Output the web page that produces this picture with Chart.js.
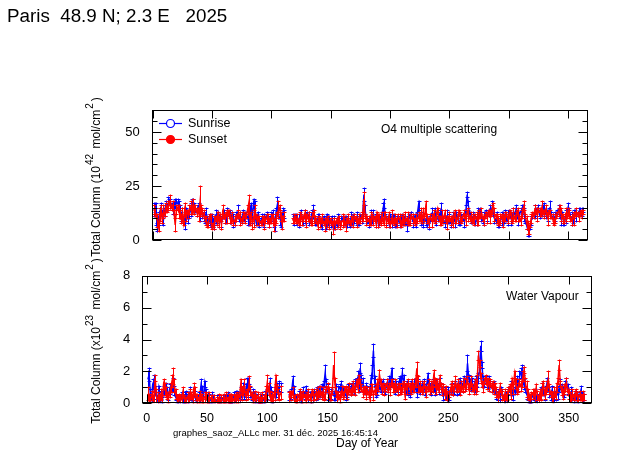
<!DOCTYPE html>
<html>
<head>
<meta charset="utf-8">
<script src="https://cdn.jsdelivr.net/npm/chart.js@4.4.1/dist/chart.umd.min.js"></script>
<style>
  body { margin: 0; background: #fff; font-family: "Liberation Sans", Arial, sans-serif; }
  #wrap { position: relative; width: 623px; height: 455px; overflow: hidden; }
  canvas { position: absolute; left: 0; top: 0; }
  .t { position: absolute; color: #000; white-space: pre; line-height: 1; }
  .ylab { position: absolute; white-space: pre; font-size: 12px; line-height: 1;
          transform: translate(-50%, -50%) rotate(-90deg); }
  .ylab sup { font-size: 10px; vertical-align: 7px; padding: 0 2px 0 1px; }
</style>
</head>
<body>
<div id="wrap">
  <canvas id="o4Chart" width="623" height="455"></canvas>
  <canvas id="h2oChart" width="623" height="455"></canvas>

  <div class="t" style="left:7px; top:6.5px; font-size:18.8px;">Paris  48.9 N; 2.3 E   2025</div>
  <div class="t" style="left:381px; top:123px; font-size:12px;">O4 multiple scattering</div>
  <div class="t" style="left:506px; top:290px; font-size:12px;">Water Vapour</div>
  <div class="t" style="left:173px; top:428px; font-size:9.5px;">graphes_saoz_ALLc mer. 31 déc. 2025 16:45:14</div>
  <div class="t" style="left:336px; top:437px; font-size:12px;">Day of Year</div>

  <div class="ylab" style="left:93px; top:177px;">Total Column (10<sup>42</sup> mol/cm<sup>2</sup>)</div>
  <div class="ylab" style="left:93px; top:341px;">Total Column (x10<sup>23</sup> mol/cm<sup>2</sup>)</div>
</div>

<script>
// day of year of the first value in every series
const firstDay = 1;

const xTicks = [0, 50, 100, 150, 200, 250, 300, 350];
const o4YTicks = [0, 5, 10, 15, 20, 25, 30, 35, 40, 45, 50, 55, 60];
const o4YLabels = [0, 25, 50];
const h2oYTicks = [0, 1, 2, 3, 4, 5, 6, 7, 8];
const h2oYLabels = [0, 2, 4, 6, 8];

const seriesNames = ["Sunrise", "Sunset"];

// O4 total column, 10^42 mol/cm2
const o4Sunrise = [
  14, 15, 12, 6, 10, 13, 15, 11, 9, 13,
  16, 15, 17, 18, 17, 16, 14, 15, 17, 18,
  17, 16, 13, 11, 12, 9, 8, 13, 12, 10,
  12, 14, 17, 16, 15, 14, 13, 15, 14, 12,
  13, 12, 11, 10, 12, 9, 8, 10, 7, 9,
  8, 6, 11, 10, 12, 9, 10, 8, 11, 12,
  10, 9, 13, 12, 11, 10, 12, 9, 8, 11,
  12, 13, 10, 11, 9, 12, 10, 11, 12, 10,
  9, 13, 15, 11, 17, 14, 9, 11, 10, 8,
  9, 10, 8, 9, 10, 11, 9, 8, 10, 11,
  12, 8, 7, 13, 16, 12, 10, 9, 11, 13,
  12, null, null, null, null, null, null, 10, 9, 11,
  10, 8, 9, 11, 12, 10, 9, 11, 10, 12,
  11, 10, 9, 12, 13, 10, 9, 8, 10, 11,
  9, 8, 7, 10, 9, 8, 11, 9, 10, 8,
  9, 7, 8, 6, 8, 10, 9, 8, 9, 10,
  8, 9, 10, 8, 9, 7, 10, 9, 11, 10,
  9, 10, 8, 9, 11, 10, 12, 21, 14, 10,
  9, 8, 10, 11, 9, 12, 10, 9, 11, 8,
  9, 10, 12, 14, 17, 11, 9, 10, 8, 9,
  10, 9, 11, 8, 7, 9, 10, 8, 9, 11,
  9, 10, 8, 7, 9, 11, 10, 12, 9, 10,
  11, 9, 12, 16, 11, 10, 9, 8, 10, 9,
  8, 9, 7, 10, 12, 11, 10, 13, 9, 10,
  11, 12, 14, 10, 9, 8, 10, 11, 9, 10,
  8, 9, 11, 10, 9, 12, 10, 8, 9, 11,
  10, 9, 11, 14, 21, 16, 12, 10, 9, 11,
  10, 8, 9, 12, 13, 14, 11, 9, 10, 12,
  13, 11, 12, 14, 13, 15, 12, 10, 9, 11,
  8, 7, 9, 10, 11, 9, 12, 10, 9, 13,
  12, 10, 11, 13, 12, 14, 11, 10, 12, 13,
  14, 15, 12, 9, 7, 5, 4, 6, 9, 11,
  12, 13, 14, 13, 15, 12, 14, 13, 15, 14,
  12, 13, 11, 14, 15, 12, 10, 9, 11, 12,
  13, 14, 11, 10, 12, 9, 8, 11, 13, 15,
  13, 11, 10, 9, 12, 13, 11, 12, 13, 14,
  12, 13, 14
];
const o4Sunset = [
  14, 13, 11, 9, 6, 12, 14, 10, 13, 12,
  15, 14, 16, 17, 18, 15, 16, 13, 7, 14,
  15, 13, 12, 10, 12, 8, 14, 11, 13, 12,
  14, 15, 13, 16, 14, 15, 13, 14, 12, 18,
  14, 13, 12, 10, 9, 7, 8, 11, 10, 6,
  7, 8, 10, 9, 12, 8, 11, 7, 13, 11,
  10, 12, 11, 13, 10, 9, 11, 8, 9, 10,
  11, 12, 11, 10, 9, 11, 12, 10, 11, 14,
  17, 9, 12, 7, 10, 13, 11, 9, 10, 9,
  8, 9, 10, 8, 9, 10, 11, 8, 9, 10,
  11, 7, 8, 10, 12, 14, 15, 11, 8, 10,
  11, null, null, null, null, null, null, 9, 10, 10,
  9, 10, 8, 10, 11, 9, 10, 12, 9, 11,
  10, 11, 8, 9, 12, 11, 10, 9, 7, 10,
  8, 9, 10, 8, 7, 9, 8, 10, 7, 9,
  8, 6, 9, 7, 9, 8, 10, 7, 8, 9,
  9, 8, 7, 9, 10, 8, 9, 10, 8, 11,
  10, 8, 9, 10, 9, 11, 10, 19, 11, 9,
  10, 9, 8, 10, 11, 9, 10, 8, 12, 9,
  10, 8, 11, 9, 10, 12, 8, 9, 11, 7,
  9, 11, 8, 10, 9, 8, 11, 10, 7, 9,
  10, 8, 11, 9, 10, 8, 9, 11, 10, 9,
  8, 10, 9, 11, 10, 12, 9, 13, 10, 15,
  10, 9, 8, 11, 9, 10, 12, 9, 11, 14,
  10, 9, 8, 11, 10, 12, 9, 8, 10, 11,
  9, 10, 8, 12, 11, 9, 10, 13, 11, 9,
  10, 12, 11, 9, 13, 12, 10, 11, 9, 10,
  9, 11, 10, 8, 12, 11, 13, 10, 9, 11,
  12, 10, 13, 11, 12, 14, 16, 12, 11, 10,
  9, 8, 10, 11, 9, 10, 11, 12, 10, 11,
  13, 11, 9, 12, 10, 11, 13, 12, 10, 9,
  12, 14, 16, 11, 8, 6, 5, 7, 10, 12,
  11, 14, 13, 12, 14, 13, 12, 15, 13, 12,
  14, 12, 10, 13, 12, 11, 10, 8, 10, 11,
  12, 13, 15, 12, 11, 10, 9, 12, 11, 13,
  12, 10, 9, 11, 10, 12, 13, 12, 11, 12,
  13, 12, 13
];
// error bar half-lengths, one digit per day (units of 10^42)
const o4SunriseErr = "3252322322 2131212321 2232313222 2323212133 1222321213 2132131212 2121321312 1312121213 2323242132 1213121212 2232423322 2000000221 2131212321 1312312121 1221131212 2131221121 1212113212 1312121321 1213121312 2113212123 1312121221 2113212131 1312131212 2121311221 1231121312 2121312121 1312121212 2123112131 1212131212 2113212121 1312121312 2131232121 1312121213 2121312121 1213121312 2131212121 121";
const o4SunsetErr = "2213232231 2121312132 1322313212 2313212137 2221212121 1312121231 2131212121 1213121212 4212431212 1213121212 1312141231 2000000121 1213121231 1212131121 2121312121 1312121213 2131212121 1212121312 1213121213 2121312121 1312121212 2121312121 1212131213 2121312121 1213121312 2121312121 1212131212 2131212121 1213121312 2121312121 1213121312 2121332121 1213121312 2131212121 1213121312 2121312121 121";

// water vapour total column, 10^23 mol/cm2
const h2oSunrise = [
  1.5, 1.8, 0.6, 0.3, 1.2, 1.4, 0.8, 0.5, 0.2, 0.9,
  0.3, 0.5, 0.2, 0.8, 1.0, 0.9, 0.7, 0.4, 0.9, 1.1,
  1.0, 1.2, 0.8, 0.4, 0.2, 0.1, 0.3, 0.2, 0.5, 0.3,
  0.2, 0.4, 0.6, 0.3, 0.5, 0.7, 0.4, 0.2, 0.6, 0.5,
  0.3, 0.2, 0.5, 0.4, 1.1, 0.7, 0.4, 1.2, 0.6, 0.3,
  0.5, 0.3, 0.2, 0.4, 0.3, 0.2, 0.1, 0.2, 0.1, 0.1,
  0.2, 0.1, 0.3, 0.2, 0.3, 0.2, 0.5, 0.3, 0.2, 0.3,
  0.2, 0.4, 0.3, 0.5, 0.6, 0.4, 0.3, 0.7, 0.5, 0.9,
  0.6, 0.8, 1.2, 1.3, 1.0, 0.7, 0.4, 0.6, 0.5, 0.3,
  0.4, 0.3, 0.2, 0.3, 0.4, 0.3, 0.2, 0.5, 0.4, 0.6,
  0.8, 1.2, 0.7, 0.4, 0.3, 0.5, 0.6, 1.0, 0.8, 1.1,
  1.0, null, null, null, null, null, null, 0.5, 0.4, 0.6,
  1.3, 0.8, 0.4, 0.2, 0.3, 0.5, 0.4, 0.3, 0.6, 0.7,
  0.5, 0.8, 0.6, 0.4, 0.5, 0.3, 0.6, 0.4, 0.7, 0.5,
  0.8, 0.6, 0.9, 0.7, 1.0, 0.8, 1.2, 1.9, 1.1, 0.7,
  0.5, 0.4, 0.6, 0.8, 0.5, 0.4, 0.9, 0.6, 0.8, 1.0,
  1.1, 0.9, 0.8, 0.7, 0.5, 0.6, 0.9, 1.0, 0.8, 1.1,
  1.0, 0.8, 1.2, 1.4, 1.6, 1.1, 2.2, 1.5, 1.2, 0.9,
  0.8, 1.0, 0.9, 0.7, 0.6, 1.5, 2.0, 3.3, 1.4, 0.6,
  0.8, 1.0, 1.2, 0.9, 1.1, 1.3, 1.0, 0.8, 1.2, 0.9,
  1.4, 1.3, 1.9, 1.2, 1.0, 0.8, 1.1, 0.9, 1.3, 1.5,
  1.2, 1.9, 1.4, 1.0, 0.9, 1.2, 0.8, 0.6, 1.1, 0.9,
  1.0, 1.2, 0.9, 0.7, 1.3, 1.0, 0.8, 1.1, 0.9, 1.2,
  0.8, 1.0, 1.6, 1.1, 0.9, 0.7, 1.2, 1.0, 0.8, 1.3,
  1.1, 0.9, 1.4, 1.0, 0.7, 0.5, 0.8, 0.6, 0.4, 0.7,
  0.5, 0.8, 1.0, 0.7, 0.9, 1.2, 0.8, 1.1, 0.9, 1.4,
  1.2, 1.0, 1.5, 1.3, 1.1, 2.5, 1.6, 1.2, 1.0, 1.3,
  1.1, 0.9, 1.4, 1.2, 1.6, 2.0, 3.6, 2.4, 1.4, 1.2,
  1.5, 1.3, 1.1, 1.4, 1.2, 1.0, 0.9, 1.1, 0.8, 0.6,
  0.5, 0.7, 0.4, 0.8, 0.6, 0.3, 0.2, 0.5, 0.4, 0.7,
  0.9, 1.1, 0.7, 0.5, 0.8, 1.0, 1.3, 1.1, 1.6, 1.9,
  2.0, 1.5, 1.2, 0.9, 0.6, 0.4, 0.3, 0.2, 0.3, 0.5,
  0.4, 0.6, 0.3, 0.2, 0.4, 0.6, 0.8, 1.0, 0.7, 0.5,
  0.9, 1.3, 1.0, 0.7, 0.5, 0.8, 0.4, 0.3, 0.5, 0.8,
  0.6, 0.9, 1.2, 1.0, 0.8, 0.6, 1.1, 1.4, 0.9, 0.7,
  0.5, 0.7, 0.4, 0.3, 0.6, 0.5, 0.4, 0.3, 0.5, 0.8,
  0.5, 0.3, 0.4
];
const h2oSunset = [
  0.6, 0.3, 0.2, 0.5, 0.3, 0.4, 1.6, 0.5, 0.3, 0.2,
  0.4, 0.6, 0.3, 1.2, 0.9, 0.7, 0.5, 0.3, 0.6, 1.0,
  1.4, 1.7, 1.1, 0.6, 0.3, 0.2, 0.4, 0.2, 0.3, 0.7,
  0.3, 0.1, 0.2, 0.4, 0.3, 0.6, 0.5, 0.3, 0.9, 0.7,
  0.4, 0.3, 0.2, 0.5, 0.4, 0.3, 0.2, 0.4, 0.5, 0.3,
  0.2, 0.4, 0.3, 0.2, 0.1, 0.2, 0.1, 0.1, 0.2, 0.3,
  0.1, 0.2, 0.2, 0.3, 0.1, 0.4, 0.2, 0.3, 0.2, 0.3,
  0.3, 0.2, 0.4, 0.3, 0.5, 0.3, 0.4, 1.2, 0.6, 0.8,
  1.1, 0.5, 0.7, 0.6, 1.3, 0.8, 0.5, 0.3, 0.4, 0.5,
  0.3, 0.4, 0.2, 0.3, 0.2, 0.4, 0.3, 0.2, 0.7, 1.3,
  0.9, 0.5, 0.3, 0.4, 0.2, 0.6, 1.5, 0.9, 0.6, 0.4,
  0.7, null, null, null, null, null, null, 0.4, 0.6, 0.5,
  0.7, 0.3, 0.2, 0.1, 0.3, 0.4, 0.6, 0.5, 0.3, 0.6,
  0.4, 0.3, 0.5, 0.6, 0.4, 0.3, 0.7, 0.5, 0.4, 0.6,
  0.5, 0.7, 0.6, 0.8, 0.5, 0.7, 0.4, 0.6, 0.9, 1.0,
  0.7, 0.4, 0.5, 0.8, 2.4, 1.3, 0.6, 0.4, 0.5, 0.3,
  0.6, 0.8, 0.5, 0.7, 0.9, 0.6, 0.8, 1.0, 0.7, 0.9,
  1.1, 0.9, 0.8, 1.3, 1.0, 1.6, 1.2, 1.0, 0.7, 0.8,
  0.9, 0.6, 0.8, 0.7, 0.3, 0.9, 1.0, 0.5, 0.8, 0.9,
  1.2, 1.0, 1.8, 1.3, 0.9, 1.1, 0.8, 1.0, 1.2, 0.9,
  1.1, 0.8, 1.3, 1.0, 0.9, 1.2, 1.0, 0.8, 1.1, 0.9,
  0.8, 1.0, 1.2, 0.6, 1.1, 0.9, 1.3, 1.0, 0.8, 1.2,
  1.0, 0.9, 1.3, 2.2, 1.2, 0.9, 1.1, 0.8, 1.0, 1.2,
  0.9, 0.7, 1.0, 1.2, 0.8, 1.1, 0.9, 1.7, 1.3, 1.0,
  1.2, 0.9, 1.5, 1.1, 0.8, 1.0, 0.6, 0.9, 0.5, 0.3,
  0.6, 0.9, 1.2, 0.8, 1.0, 1.4, 0.9, 1.2, 1.0, 0.8,
  1.1, 0.9, 1.3, 1.0, 1.2, 1.5, 0.9, 1.1, 1.4, 1.0,
  0.8, 1.2, 1.0, 1.3, 3.0, 2.5, 1.6, 1.2, 1.0, 1.4,
  1.6, 1.2, 1.4, 1.1, 1.3, 1.0, 1.2, 0.9, 1.1, 0.7,
  0.4, 0.6, 1.0, 0.7, 0.5, 0.3, 0.6, 0.4, 0.5, 0.8,
  1.0, 0.6, 1.4, 0.9, 1.8, 1.2, 0.8, 1.0, 1.3, 1.1,
  1.2, 1.7, 2.1, 1.3, 0.9, 0.6, 0.4, 0.3, 0.5, 0.6,
  0.7, 0.4, 1.0, 0.5, 0.3, 0.6, 0.4, 0.9, 1.2, 0.6,
  0.8, 1.1, 1.5, 0.9, 0.6, 0.4, 0.3, 0.7, 0.5, 1.0,
  1.4, 2.4, 1.2, 0.8, 0.5, 0.9, 1.0, 1.3, 0.7, 0.6,
  0.4, 0.3, 0.6, 0.4, 0.5, 0.7, 0.4, 0.3, 0.5, 0.4,
  0.3, 0.5, 0.4
];
// error bar half-lengths, one digit per day (tenths of 10^23)
const h2oSunriseErr = "5432343232 2323243232 3432232323 2323232323 2323443232 2323232322 2323232323 2323232324 3443232323 2323232323 3434232323 3000000323 4323232323 2323232323 2323232545 3232323232 3232323232 3232443342 2323234432 3232323232 3332323232 5342323232 2323232323 3232323232 2323232323 3232323232 2323252323 3232343232 2323232323 3232323232 2323234343 4332323232 2323232323 2323333232 3232323232 2323232323 232";
const h2oSunsetErr = "4323232443 2323432323 4543232323 2323232343 2323232323 2323232323 2323232343 2323232343 4323432323 2323232345 4323443232 4000000323 3232323232 2323232323 2323232323 3232832323 2323232323 3232323232 2323232323 3232323232 2323232323 2323232323 3234523232 2323232434 3232323232 2323232323 3232323232 2345323232 2323232323 3232323232 2323232323 2323532323 2323232423 2353232323 2323232323 3232323232 232";

const riseColor = "#0000ff";
const setColor = "#ff0000";

function toPoints(vals) {
  return vals.map((v, i) => ({ x: firstDay + i, y: v }));
}

function digits(s) {
  return s.replace(/ /g, "").split("").map(Number);
}

// vertical error bars with small caps, drawn right after each line
const errorBars = {
  id: "errorBars",
  afterDatasetDraw(chart, args) {
    const ds = chart.data.datasets[args.index];
    if (!ds.errors) return;
    const ctx = chart.ctx, ys = chart.scales.y, a = chart.chartArea;
    ctx.save();
    ctx.beginPath();
    ctx.rect(a.left, a.top, a.right - a.left, a.bottom - a.top);
    ctx.clip();
    ctx.strokeStyle = ds.borderColor;
    ctx.lineWidth = 1;
    ctx.beginPath();
    args.meta.data.forEach((pt, i) => {
      const v = ds.data[i].y;
      if (v === null) return;
      const e = ds.errors[i] * ds.errScale;
      if (!e) return;
      const px = Math.round(pt.x) + 0.5;
      const top = Math.round(ys.getPixelForValue(v + e)) + 0.5;
      const bot = Math.round(ys.getPixelForValue(v - e)) + 0.5;
      ctx.moveTo(px, top - 1); ctx.lineTo(px, bot + 1);
      ctx.moveTo(px - 2, top); ctx.lineTo(px + 2, top);
      ctx.moveTo(px - 2, bot); ctx.lineTo(px + 2, bot);
    });
    ctx.stroke();
    ctx.restore();
  }
};

// box around the plot and inward ticks on all four sides
const frame = {
  id: "frame",
  afterDraw(chart, args, opts) {
    const ctx = chart.ctx, a = chart.chartArea;
    const xs = chart.scales.x, ys = chart.scales.y;
    const L = Math.round(a.left) + 0.5, R = Math.round(a.right) - 0.5;
    const T = Math.round(a.top) + 0.5, B = Math.round(a.bottom) - 0.5;
    ctx.save();
    ctx.strokeStyle = "#000";
    ctx.lineWidth = 1;
    ctx.strokeRect(L, T, R - L, B - T);
    ctx.beginPath();
    xs.ticks.forEach(t => {
      const px = Math.round(xs.getPixelForValue(t.value)) + 0.5;
      ctx.moveTo(px, T); ctx.lineTo(px, T + 8);
      ctx.moveTo(px, B); ctx.lineTo(px, B - 8);
    });
    ys.ticks.forEach(t => {
      const py = Math.round(ys.getPixelForValue(t.value)) + 0.5;
      const len = opts.majors.includes(t.value) ? 9 : 5;
      ctx.moveTo(L, py); ctx.lineTo(L + len, py);
      ctx.moveTo(R, py); ctx.lineTo(R - len, py);
    });
    ctx.stroke();

    if (opts.legend) {
      ctx.font = "12.5px 'Liberation Sans', Arial, sans-serif";
      ctx.textBaseline = "middle";
      const rows = [
        { name: seriesNames[0], color: riseColor, y: 123.5, fill: false },
        { name: seriesNames[1], color: setColor, y: 139.5, fill: true }
      ];
      rows.forEach(r => {
        ctx.strokeStyle = r.color;
        ctx.lineWidth = 1.2;
        ctx.beginPath();
        ctx.moveTo(159, r.y); ctx.lineTo(182, r.y);
        ctx.stroke();
        ctx.beginPath();
        ctx.arc(170.5, r.y, 4, 0, Math.PI * 2);
        ctx.fillStyle = r.fill ? r.color : "#fff";
        ctx.fill();
        ctx.stroke();
        ctx.fillStyle = "#000";
        ctx.fillText(r.name, 188, r.y);
      });
    }
    ctx.restore();
  }
};

function makeChart(id, cfg) {
  const ctx = document.getElementById(id).getContext("2d");
  return new Chart(ctx, {
    type: "line",
    data: {
      datasets: [
        {
          label: seriesNames[0],
          data: toPoints(cfg.rise),
          errors: digits(cfg.riseErr),
          errScale: cfg.errScale,
          borderColor: riseColor,
          borderWidth: 1.5,
          pointRadius: 0,
          spanGaps: false,
          tension: 0,
          order: 1
        },
        {
          label: seriesNames[1],
          data: toPoints(cfg.set),
          errors: digits(cfg.setErr),
          errScale: cfg.errScale,
          borderColor: setColor,
          borderWidth: 1.5,
          pointRadius: 0,
          spanGaps: false,
          tension: 0,
          order: 0
        }
      ]
    },
    options: {
      responsive: false,
      animation: false,
      events: [],
      layout: { autoPadding: false, padding: cfg.padding },
      plugins: {
        legend: { display: false },
        tooltip: { enabled: false },
        frame: { majors: cfg.yLabels, legend: cfg.legend }
      },
      scales: {
        x: {
          type: "linear",
          min: cfg.xMin,
          max: cfg.xMax,
          grid: { display: false },
          border: { display: false },
          afterBuildTicks: s => { s.ticks = xTicks.map(v => ({ value: v })); },
          afterFit: s => { s.height = cfg.xHeight; },
          ticks: {
            display: cfg.showX,
            color: "#000",
            padding: 0,
            maxRotation: 0,
            autoSkip: false,
            font: { family: "'Liberation Sans', Arial, sans-serif", size: 12.5 }
          }
        },
        y: {
          min: 0,
          max: cfg.yMax,
          grid: { display: false },
          border: { display: false },
          afterBuildTicks: s => { s.ticks = cfg.yTicks.map(v => ({ value: v })); },
          afterFit: s => { s.width = 40; },
          ticks: {
            color: "#000",
            padding: 4,
            autoSkip: false,
            callback: v => (cfg.yLabels.includes(v) ? String(v) : ""),
            font: { family: "'Liberation Sans', Arial, sans-serif", size: 13 }
          }
        }
      }
    },
    plugins: [errorBars, frame]
  });
}

makeChart("o4Chart", {
  rise: o4Sunrise, set: o4Sunset,
  riseErr: o4SunriseErr, setErr: o4SunsetErr, errScale: 1,
  yMax: 60, yTicks: o4YTicks, yLabels: o4YLabels,
  xMin: -0.8, xMax: 366.8, showX: false, xHeight: 0,
  padding: { left: 111.7, right: 35, top: 110.4, bottom: 215 },
  legend: true
});

makeChart("h2oChart", {
  rise: h2oSunrise, set: h2oSunset,
  riseErr: h2oSunriseErr, setErr: h2oSunsetErr, errScale: 0.1,
  yMax: 8, yTicks: h2oYTicks, yLabels: h2oYLabels,
  xMin: -3.65, xMax: 369, showX: true, xHeight: 51.7,
  padding: { left: 102.3, right: 31.3, top: 275.7, bottom: 0 },
  legend: false
});
</script>
</body>
</html>
